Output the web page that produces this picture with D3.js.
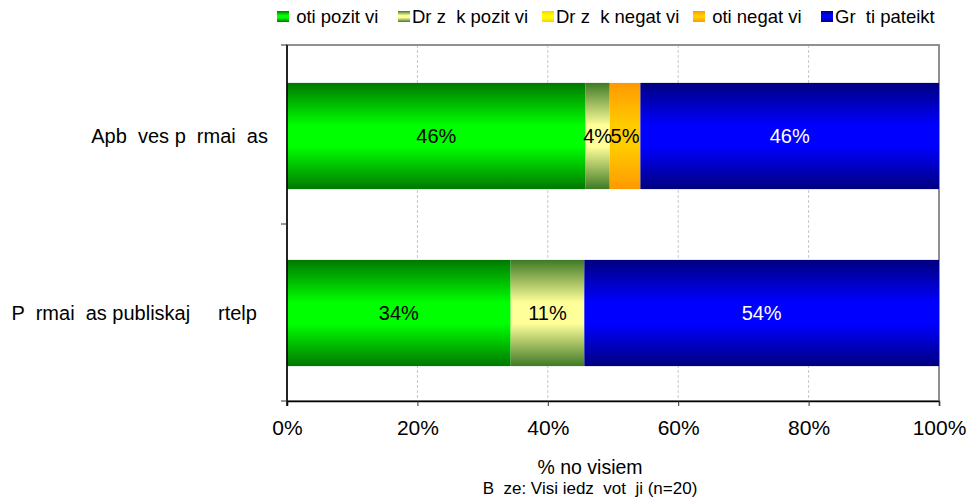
<!DOCTYPE html>
<html>
<head>
<meta charset="utf-8">
<script src="https://cdn.jsdelivr.net/npm/d3@7"></script>
<style>
  html, body { margin: 0; padding: 0; background: #ffffff; }
  svg text { font-family: "Liberation Sans", Arial, sans-serif; white-space: pre; }
</style>
</head>
<body>
<svg id="chart" width="969" height="502"></svg>
<script>
// ---- data ----
const categories = ["Apb  ves p  rmai  as", "P  rmai  as publiskaj     rtelp  "];
const seriesNames = [" oti pozit vi", "Dr z  k pozit vi", "Dr z  k negat vi", " oti negat vi", "Gr  ti pateikt"];
const veryPositive   = [45.8, 34.3];
const ratherPositive = [3.7, 11.3];
const ratherNegative = [0, 0];
const veryNegative   = [4.7, 0];
const hardToSay      = [45.8, 54.4];
const xTicks = [0, 20, 40, 60, 80, 100];
const xAxisTitle = "% no visiem";
const baseNote = "B  ze: Visi iedz  vot  ji (n=20)";

(function () {
const seriesValues = [veryPositive, ratherPositive, ratherNegative, veryNegative, hardToSay];
const gradients = [
  { id: "g0", edge: "#007800", mid: "#00ff00" },
  { id: "g1", edge: "#3f7a26", mid: "#ffff99" },
  { id: "g2", edge: "#ffcc00", mid: "#ffff00" },
  { id: "g3", edge: "#ff9900", mid: "#ffcc00" },
  { id: "g4", edge: "#000080", mid: "#0000ff" }
];
const labelColors = ["#000", "#000", "#000", "#000", "#fff"];

const svg = d3.select("#chart");
const defs = svg.append("defs");
gradients.forEach(g => {
  const lg = defs.append("linearGradient").attr("id", g.id)
    .attr("x1", 0).attr("y1", 0).attr("x2", 0).attr("y2", 1);
  lg.append("stop").attr("offset", "0%").attr("stop-color", g.edge);
  lg.append("stop").attr("offset", "40%").attr("stop-color", g.mid);
  lg.append("stop").attr("offset", "60%").attr("stop-color", g.mid);
  lg.append("stop").attr("offset", "100%").attr("stop-color", g.edge);
});

const pL = 287, pR = 939, pT = 45, pB = 401;
const x = d3.scaleLinear().domain([0, 100]).range([pL, pR]);
const y = d3.scaleBand().domain(categories).range([47.5, 401.5]).paddingInner(0.4).paddingOuter(0.2);

// gridlines
svg.append("g").selectAll("line").data(xTicks.slice(1, -1)).join("line")
  .attr("x1", d => x(d)).attr("x2", d => x(d))
  .attr("y1", pT).attr("y2", pB)
  .attr("stroke", "#c8c8c8").attr("stroke-dasharray", "3,2").attr("stroke-width", 1);

// plot border (gray)
svg.append("rect").attr("x", pL).attr("y", pT).attr("width", pR - pL).attr("height", pB - pT)
  .attr("fill", "none").attr("stroke", "#909090").attr("stroke-width", 2);

// stacked data
const rows = categories.map((c, i) => {
  let acc = 0;
  return seriesValues.map((vals, s) => {
    const v = vals[i];
    const seg = { cat: c, s, v, x0: acc, x1: acc + v };
    acc += v;
    return seg;
  });
});

const barsG = svg.append("g");
rows.forEach(row => {
  barsG.selectAll(null).data(row.filter(d => d.v > 0)).enter().append("rect")
    .attr("x", d => x(d.x0)).attr("width", d => x(d.x1) - x(d.x0))
    .attr("y", d => y(d.cat)).attr("height", y.bandwidth())
    .attr("fill", d => `url(#${gradients[d.s].id})`);
  barsG.selectAll(null).data(row.filter(d => d.v > 0)).enter().append("text")
    .attr("x", d => (x(d.x0) + x(d.x1)) / 2)
    .attr("y", d => y(d.cat) + y.bandwidth() / 2)
    .attr("dy", "0.36em").attr("text-anchor", "middle")
    .attr("font-size", 20).attr("fill", d => labelColors[d.s])
    .text(d => Math.round(d.v) + "%");
});

// axes
const xAxis = svg.append("g").attr("transform", `translate(0,${pB})`)
  .call(d3.axisBottom(x).tickValues(xTicks).tickFormat(d => d + "%").tickSize(5).tickPadding(14));
xAxis.select(".domain").attr("stroke", "#000").attr("stroke-width", 1.5);
xAxis.selectAll(".tick line").attr("stroke", "#333");
xAxis.selectAll("text").attr("font-size", 21).attr("fill", "#000")
  .style("font-family", '"Liberation Sans", Arial, sans-serif');

// y axis line with ticks at category boundaries
svg.append("line").attr("x1", pL).attr("x2", pL).attr("y1", pT).attr("y2", pB + 5)
  .attr("stroke", "#000").attr("stroke-width", 1.5);
const yBounds = [pT, 224, pB];
svg.append("g").selectAll("line").data(yBounds).join("line")
  .attr("x1", pL - 6).attr("x2", pL).attr("y1", d => d).attr("y2", d => d)
  .attr("stroke", "#333");

// category labels
svg.append("g").selectAll("text").data(categories).join("text")
  .attr("x", 268).attr("y", d => y(d) + y.bandwidth() / 2)
  .attr("dy", "0.36em").attr("text-anchor", "end")
  .attr("font-size", 20).attr("fill", "#000").text(d => d);

// legend
const legendX = [277, 398, 542, 693, 821];
const legend = svg.append("g");
seriesNames.forEach((name, i) => {
  legend.append("rect").attr("x", legendX[i]).attr("y", 11).attr("width", 12).attr("height", 11)
    .attr("fill", `url(#${gradients[i].id})`);
  legend.append("text").attr("x", legendX[i] + 14).attr("y", 23)
    .attr("font-size", 18.5).attr("fill", "#000").text(name);
});

// axis title and note
svg.append("text").attr("x", 590).attr("y", 474).attr("text-anchor", "middle")
  .attr("font-size", 19.5).attr("fill", "#000").text(xAxisTitle);
svg.append("text").attr("x", 590).attr("y", 494).attr("text-anchor", "middle")
  .attr("font-size", 17).attr("fill", "#000").text(baseNote);
})();
</script>
</body>
</html>
